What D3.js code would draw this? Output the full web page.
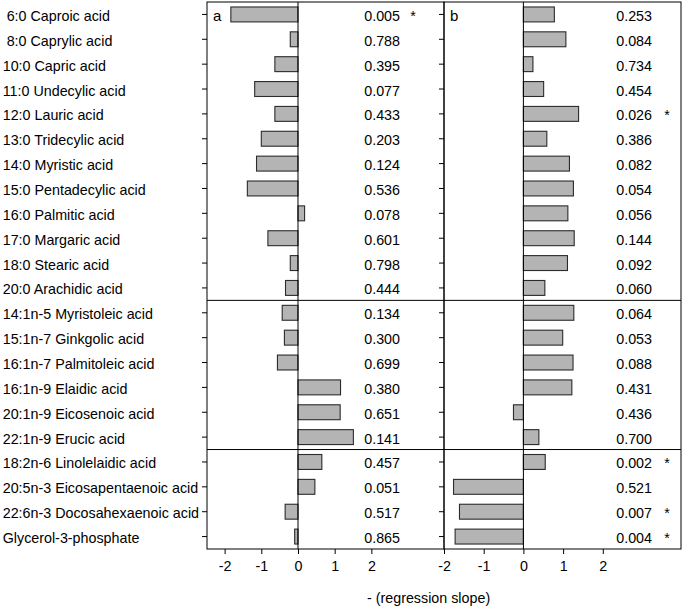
<!DOCTYPE html>
<html>
<head>
<meta charset="utf-8">
<script src="https://cdn.jsdelivr.net/npm/d3@7"></script>
<style>
  body { margin: 0; background: #fff; }
  text { font-family: "Liberation Sans", Arial, sans-serif; font-size: 14.3px; fill: #000; }
</style>
</head>
<body>
<svg id="chart" width="685" height="608"></svg>
<script>
const categories = [
  " 6:0 Caproic acid", " 8:0 Caprylic acid", "10:0 Capric acid", "11:0 Undecylic acid",
  "12:0 Lauric acid", "13:0 Tridecylic acid", "14:0 Myristic acid", "15:0 Pentadecylic acid",
  "16:0 Palmitic acid", "17:0 Margaric acid", "18:0 Stearic acid", "20:0 Arachidic acid",
  "14:1n-5 Myristoleic acid", "15:1n-7 Ginkgolic acid", "16:1n-7 Palmitoleic acid",
  "16:1n-9 Elaidic acid", "20:1n-9 Eicosenoic acid", "22:1n-9 Erucic acid",
  "18:2n-6 Linolelaidic acid", "20:5n-3 Eicosapentaenoic acid", "22:6n-3 Docosahexaenoic acid",
  "Glycerol-3-phosphate"
];
const groupStarts = ["14:1n-5 Myristoleic acid", "18:2n-6 Linolelaidic acid"];

const valuesA = [-1.83, -0.21, -0.63, -1.18, -0.63, -1.00, -1.13, -1.38, 0.18, -0.82, -0.21, -0.34,
                 -0.43, -0.37, -0.56, 1.16, 1.15, 1.51, 0.65, 0.46, -0.35, -0.09];
const pA = ["0.005", "0.788", "0.395", "0.077", "0.433", "0.203", "0.124", "0.536", "0.078", "0.601", "0.798", "0.444",
            "0.134", "0.300", "0.699", "0.380", "0.651", "0.141", "0.457", "0.051", "0.517", "0.865"];
const sigA = [true, false, false, false, false, false, false, false, false, false, false, false,
              false, false, false, false, false, false, false, false, false, false];

const valuesB = [0.78, 1.07, 0.24, 0.51, 1.39, 0.59, 1.16, 1.26, 1.12, 1.28, 1.11, 0.54,
                 1.27, 0.99, 1.25, 1.22, -0.25, 0.39, 0.55, -1.76, -1.61, -1.72];
const pB = ["0.253", "0.084", "0.734", "0.454", "0.026", "0.386", "0.082", "0.054", "0.056", "0.144", "0.092", "0.060",
            "0.064", "0.053", "0.088", "0.431", "0.436", "0.700", "0.002", "0.521", "0.007", "0.004"];
const sigB = [false, false, false, false, true, false, false, false, false, false, false, false,
              false, false, false, false, false, false, true, false, true, true];

const xTicks = [-2, -1, 0, 1, 2];
const xTickLabels = ["-2", "-1", "0", "1", "2"];
const panelLabels = ["a", "b"];
const axisTitle = "- (regression slope)";

(function () {
const svg = d3.select("#chart");
const yTop = 2, yBottom = 549;

const y = d3.scaleBand().domain(categories).range([yTop, yBottom]).paddingInner(0.4).paddingOuter(0.2);
const step = y.step();
const mid = d => y(d) + y.bandwidth() / 2;

const panels = [
  { label: panelLabels[0], values: valuesA, p: pA, sig: sigA,
    x: d3.scaleLinear().domain([-2.48, 3.98]).range([207, 444]), pX: 400, starX: 413 },
  { label: panelLabels[1], values: valuesB, p: pB, sig: sigB,
    x: d3.scaleLinear().domain([-2.0, 3.97]).range([444, 681]), pX: 652, starX: 667 }
];

svg.append("g").selectAll("text").data(categories).join("text")
  .attr("x", 2.7)
  .attr("y", d => mid(d) + 6.5)
  .style("white-space", "pre")
  .text(d => d);

panels.forEach(pn => {
  const g = svg.append("g");
  const [x0, x1] = pn.x.range();

  g.selectAll("rect.bar").data(categories).join("rect")
    .attr("class", "bar")
    .attr("x", (d, i) => pn.x(Math.min(0, pn.values[i])))
    .attr("y", d => y(d))
    .attr("width", (d, i) => Math.abs(pn.x(pn.values[i]) - pn.x(0)))
    .attr("height", y.bandwidth())
    .attr("fill", "#b4b4b4")
    .attr("stroke", "#2b2b2b")
    .attr("stroke-width", 1.1);

  g.append("line")
    .attr("x1", pn.x(0)).attr("x2", pn.x(0))
    .attr("y1", yTop).attr("y2", yBottom)
    .attr("stroke", "#000").attr("stroke-width", 1);

  groupStarts.forEach(c => {
    const yy = mid(c) - step / 2;
    g.append("line")
      .attr("x1", x0).attr("x2", x1).attr("y1", yy).attr("y2", yy)
      .attr("stroke", "#000").attr("stroke-width", 1);
  });

  g.append("rect")
    .attr("x", x0).attr("y", yTop).attr("width", x1 - x0).attr("height", yBottom - yTop)
    .attr("fill", "none").attr("stroke", "#000").attr("stroke-width", 1);

  g.selectAll("line.ytick").data(categories).join("line")
    .attr("class", "ytick")
    .attr("x1", x0 - 5).attr("x2", x0)
    .attr("y1", d => mid(d))
    .attr("y2", d => mid(d))
    .attr("stroke", "#000");

  const ax = svg.append("g").attr("transform", `translate(0,${yBottom})`)
    .call(d3.axisBottom(pn.x).tickValues(xTicks)
      .tickFormat((d, i) => xTickLabels[i])
      .tickSize(5).tickPadding(7).tickSizeOuter(0));
  ax.select(".domain").remove();
  ax.selectAll("line").attr("stroke", "#000");
  ax.attr("font-size", null).attr("font-family", null);
  ax.selectAll("text").attr("fill", "#000");

  g.selectAll("text.pv").data(categories).join("text")
    .attr("class", "pv")
    .attr("x", pn.pX)
    .attr("y", d => mid(d) + 6.5)
    .attr("text-anchor", "end")
    .text((d, i) => pn.p[i]);

  g.selectAll("text.star").data(categories.filter((d, i) => pn.sig[i])).join("text")
    .attr("class", "star")
    .attr("x", pn.starX)
    .attr("y", d => mid(d) + 6.5)
    .attr("text-anchor", "middle")
    .text("*");

  g.append("text")
    .attr("x", x0 + 6)
    .attr("y", mid(categories[0]) + 7)
    .style("font-size", "15px")
    .text(pn.label);
});

svg.append("text")
  .attr("x", 367).attr("y", 603)
  .text(axisTitle);
})();
</script>
</body>
</html>
